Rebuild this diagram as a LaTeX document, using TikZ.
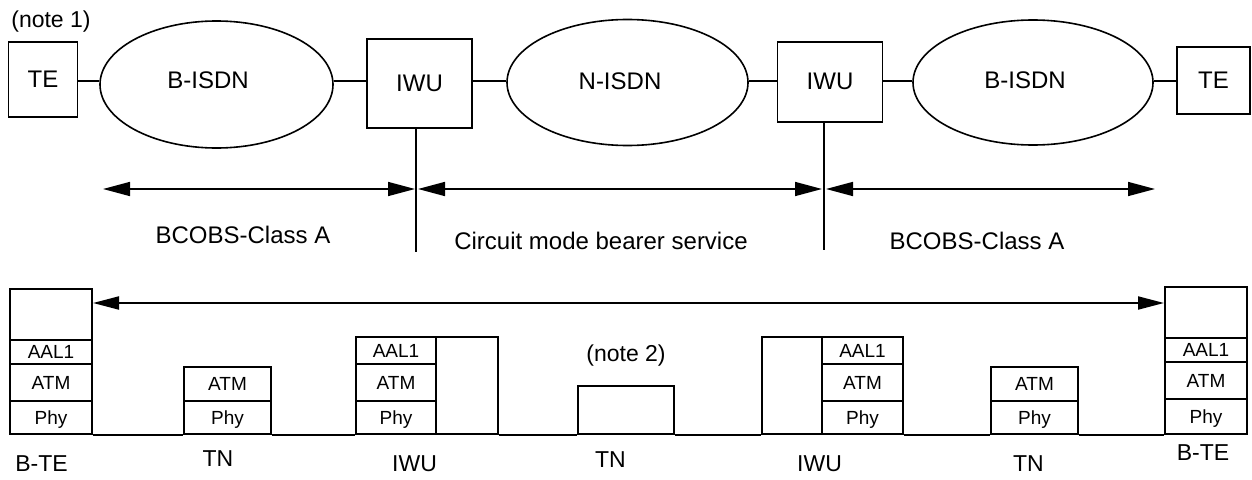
\documentclass[tikz,border=0pt]{standalone}
\usepackage{fontspec}
\setmainfont{Liberation Sans}
\usetikzlibrary{shapes.geometric,arrows.meta}
\begin{document}
\begin{tikzpicture}[x=1pt,y=-1pt,line width=1.6pt,
  box/.style={draw,inner sep=0pt,font=\fontsize{24}{28}\selectfont},
  net/.style={draw,ellipse,inner sep=0pt},
  txt/.style={inner sep=0pt,font=\fontsize{24}{28}\selectfont},
  lbl/.style={inner sep=0pt,font=\fontsize{23}{27}\selectfont},
  cell/.style={draw,line width=2pt,inner sep=0pt,text depth=0pt,font=\fontsize{19}{22}\selectfont},
  base/.style={line width=2pt},
  span/.style={{Triangle[length=27pt,width=14pt]}-{Triangle[length=27pt,width=14pt]}},
  longspan/.style={line width=2pt,{Triangle[length=26pt,width=13pt]}-{Triangle[length=26pt,width=13pt]}}
]
\useasboundingbox (0,0) rectangle (1252,479);

% ---------- top row ----------
\coordinate (rowY) at (0,81);
\node[lbl] (note1) at (51,22) {(note 1)};
\node[box,minimum width=69,minimum height=75] (te1) at (43,79.5) {TE};
\node[net,minimum width=233,minimum height=127] (bisdn1) at (216.5,84.5) {};
\node[txt] (bisdn1t) at (208,80) {B-ISDN};
\node[box,minimum width=105,minimum height=89] (iwu1) at (419.5,83.5) {IWU};
\node[net,minimum width=241,minimum height=126] (nisdn) at (627.5,82.5) {};
\node[txt] (nisdnt) at (620,81) {N-ISDN};
\node[box,minimum width=105,minimum height=80] (iwu2) at (830,81.7) {IWU};
\node[net,minimum width=240,minimum height=125] (bisdn2) at (1033,82.5) {};
\node[txt] (bisdn2t) at (1025,80) {B-ISDN};
\node[box,minimum width=73,minimum height=67] (te2) at (1213.5,80.5) {TE};

\draw (te1.east |- rowY) -- (bisdn1.west |- rowY);
\draw (bisdn1.east |- rowY) -- (iwu1.west |- rowY);
\draw (iwu1.east |- rowY) -- (nisdn.west |- rowY);
\draw (nisdn.east |- rowY) -- (iwu2.west |- rowY);
\draw (iwu2.east |- rowY) -- (bisdn2.west |- rowY);
\draw (bisdn2.east |- rowY) -- (te2.west |- rowY);

% verticals
\coordinate (v1) at (416,252);
\coordinate (v2) at (824,250);
\draw (iwu1.south -| v1) -- (v1);
\draw (iwu2.south -| v2) -- (v2);

% service spans
\coordinate (s1l) at (103,189);
\coordinate (s1r) at (415,189);
\coordinate (s2l) at (418,189);
\coordinate (s2r) at (822,189);
\coordinate (s3l) at (826,189);
\coordinate (s3r) at (1155,189);
\draw[span] (s1l) -- (s1r);
\draw[span] (s2l) -- (s2r);
\draw[span] (s3l) -- (s3r);

\node[txt] (cls1) at (243,235) {BCOBS-Class A};
\node[txt] (circ) at (601,241) {Circuit mode bearer service};
\node[txt] (cls2) at (977,241) {BCOBS-Class A};

% ---------- bottom row ----------
% B-TE left
\node[cell,minimum width=82,minimum height=51] (bteL-top) at (51,314.5) {};
\node[cell,minimum width=82,minimum height=24] (bteL-aal) at (51,352) {AAL1};
\node[cell,minimum width=82,minimum height=37] (bteL-atm) at (51,382.5) {ATM};
\node[cell,minimum width=82,minimum height=33] (bteL-phy) at (51,417.5) {Phy};
% TN 1
\node[cell,minimum width=87,minimum height=34] (tn1-atm) at (227.5,384) {ATM};
\node[cell,minimum width=87,minimum height=33] (tn1-phy) at (227.5,417.5) {Phy};
% IWU left
\node[cell,minimum width=80,minimum height=27] (iwuL-aal) at (396,350.5) {AAL1};
\node[cell,minimum width=80,minimum height=37] (iwuL-atm) at (396,382.5) {ATM};
\node[cell,minimum width=80,minimum height=33] (iwuL-phy) at (396,417.5) {Phy};
\node[cell,minimum width=62,minimum height=97] (iwuL-box) at (467,385.5) {};
% TN 2
\node[cell,minimum width=96,minimum height=48] (tn2) at (626,410) {};
\node[lbl] (note2) at (626,356) {(note 2)};
% IWU right
\node[cell,minimum width=60,minimum height=97] (iwuR-box) at (792,385.5) {};
\node[cell,minimum width=81,minimum height=27] (iwuR-aal) at (862.5,350.5) {AAL1};
\node[cell,minimum width=81,minimum height=37] (iwuR-atm) at (862.5,382.5) {ATM};
\node[cell,minimum width=81,minimum height=33] (iwuR-phy) at (862.5,417.5) {Phy};
% TN 3
\node[cell,minimum width=87,minimum height=34] (tn3-atm) at (1034.5,384) {ATM};
\node[cell,minimum width=87,minimum height=33] (tn3-phy) at (1034.5,417.5) {Phy};
% B-TE right
\node[cell,minimum width=82,minimum height=51] (bteR-top) at (1206,312.5) {};
\node[cell,minimum width=82,minimum height=24] (bteR-aal) at (1206,350) {AAL1};
\node[cell,minimum width=82,minimum height=37] (bteR-atm) at (1206,380.5) {ATM};
\node[cell,minimum width=82,minimum height=35] (bteR-phy) at (1206,416.5) {Phy};

% end-to-end span
\coordinate (topY) at (0,303);
\draw[longspan] (bteL-top.east |- topY) -- (bteR-top.west |- topY);

% baseline
\draw[base] (bteL-phy.south east) -- (tn1-phy.south west);
\draw[base] (tn1-phy.south east) -- (iwuL-phy.south west);
\draw[base] (iwuL-box.south east) -- (tn2.south west);
\draw[base] (tn2.south east) -- (iwuR-box.south west);
\draw[base] (iwuR-phy.south east) -- (tn3-phy.south west);
\draw[base] (tn3-phy.south east) -- (bteR-phy.south west);

% labels
\node[lbl] (lbteL) at (41.5,464) {B-TE};
\node[lbl] (ltn1) at (218,459) {TN};
\node[lbl] (liwuL) at (414.5,464) {IWU};
\node[lbl] (ltn2) at (610.5,459.5) {TN};
\node[lbl] (liwuR) at (819.5,464) {IWU};
\node[lbl] (ltn3) at (1028.5,464) {TN};
\node[lbl] (lbteR) at (1203,452.5) {B-TE};
\end{tikzpicture}
\end{document}
